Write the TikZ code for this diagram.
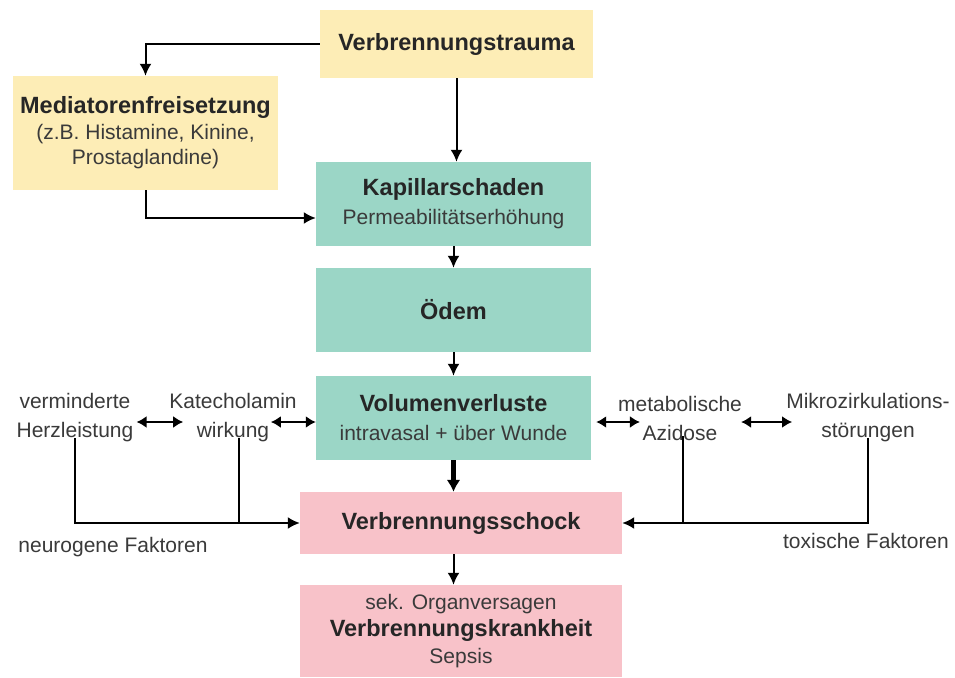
\documentclass[tikz,border=0pt]{standalone}
\usepackage{fontspec}
\setmainfont{Liberation Sans}
\usetikzlibrary{arrows.meta}

\definecolor{gelb}{HTML}{FDEDB6}
\definecolor{tuerkis}{HTML}{9BD6C6}
\definecolor{rosa}{HTML}{F8C2C9}
\definecolor{schrift}{HTML}{3A3A3A}

\newcommand{\titel}[1]{{\fontsize{23.5}{29}\selectfont\bfseries\color{black!85}#1}}

\tikzset{
  box/.style={inner sep=0pt,align=center,text=schrift,
    font=\fontsize{21}{29}\selectfont},
  gelbbox/.style={box,fill=gelb},
  tuerkisbox/.style={box,fill=tuerkis,minimum width=275pt,minimum height=84pt},
  rosabox/.style={box,fill=rosa,minimum width=322pt},
  info/.style={inner sep=0pt,align=center,text=schrift,
    font=\fontsize{21}{29}\selectfont},
  arr/.style={line width=2pt,-{Latex[length=12pt,width=12pt]}},
  dick/.style={line width=4.5pt,-{Latex[length=12pt,width=14pt]}},
  dbl/.style={line width=2pt,{Latex[length=10pt,width=12pt]}-{Latex[length=10pt,width=12pt]}},
  lin/.style={line width=2pt}
}

\begin{document}
\begin{tikzpicture}[x=1pt,y=-1pt]
  \useasboundingbox (0,0) rectangle (955,677);

  \node[gelbbox,minimum width=273pt,minimum height=68pt] (trauma) at (456.5,44)
    {\titel{Verbrennungstrauma}};
  \node[gelbbox,minimum width=265pt,minimum height=114pt,
    font=\fontsize{21}{25.5}\selectfont] (medi) at (145.5,133)
    {\titel{Mediatorenfreisetzung}\\(z.B. Histamine, Kinine,\\Prostaglandine)};

  \node[tuerkisbox] (kap) at (453.5,204) {\titel{Kapillarschaden}\\Permeabilitätserhöhung};
  \node[tuerkisbox] (oedem) at (453.5,310) {\titel{Ödem}};
  \node[tuerkisbox] (vol) at (453.5,418) {\titel{Volumenverluste}\\intravasal + über Wunde};

  \node[rosabox,minimum height=62pt] (schock) at (461,523) {\titel{Verbrennungsschock}};
  \node[rosabox,minimum height=92pt,font=\fontsize{21}{27}\selectfont] (krank) at (461,631)
    {sek. Organversagen\\\titel{Verbrennungskrankheit}\\Sepsis};

  \node[info] (herz) at (75,418) {verminderte\\Herzleistung};
  \node[info] (kat) at (233,418) {Katecholamin\\wirkung};
  \node[info] (azid) at (680,418) {metabolische\\Azidose};
  \node[info] (mikro) at (868,418) {Mikrozirkulations-\\störungen};

  \node[info] (neuro) at (113,547) {neurogene Faktoren};
  \node[info] (toxi) at (866,541) {toxische Faktoren};

  \draw[arr] (trauma.west) -| (medi.north);
  \draw[arr] (trauma.south) -- (trauma.south |- kap.north);
  \draw[arr] (medi.south) |- ([yshift=-14pt]kap.west);
  \draw[arr] (kap.south) -- (oedem.north);
  \draw[arr] (oedem.south) -- (vol.north);
  \draw[dick] (vol.south) -- (vol.south |- schock.north);
  \draw[arr] (vol.south |- schock.south) -- (vol.south |- krank.north);

  \draw[dbl] ([xshift=3pt,yshift=-4pt]herz.east) -- ([xshift=14pt,yshift=-4pt]kat.west);
  \draw[dbl] ([xshift=-26pt,yshift=-4pt]kat.east) -- ([yshift=-4pt]vol.west);
  \draw[dbl] ([xshift=5pt,yshift=-4pt]vol.east) -- ([xshift=22pt,yshift=-4pt]azid.west);
  \draw[dbl] ([xshift=-1pt,yshift=-4pt]azid.east) -- ([xshift=6pt,yshift=-4pt]mikro.west);

  \draw[arr] ([yshift=4pt]herz.south) |- (schock.west);
  \draw[lin] ([xshift=6pt,yshift=4pt]kat.south) -- ([xshift=6pt]kat.south |- schock.west);
  \draw[arr] ([yshift=4pt]mikro.south) |- (schock.east);
  \draw[lin] ([xshift=3pt,yshift=4pt]azid.south) -- ([xshift=3pt]azid.south |- schock.east);
\end{tikzpicture}
\end{document}
